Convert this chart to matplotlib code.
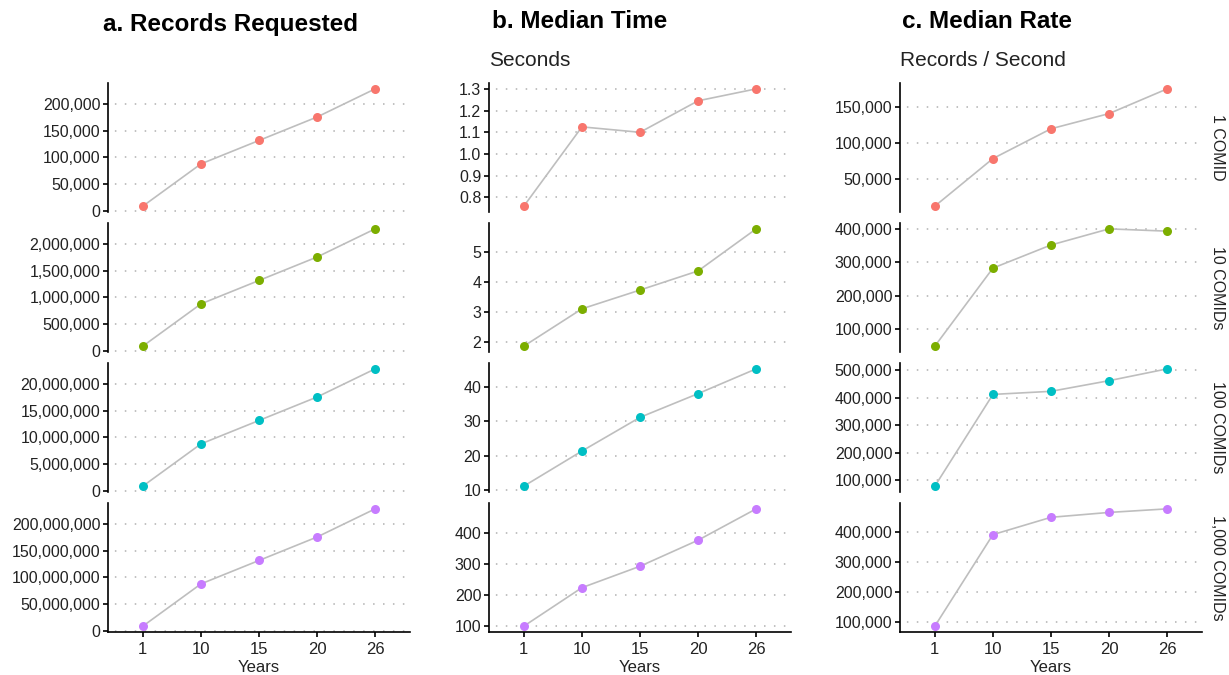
"""Facetted timing chart: records requested, median time and median rate."""

import matplotlib
matplotlib.use("Agg")
import matplotlib.pyplot as plt
from matplotlib.ticker import FuncFormatter, FixedLocator

plt.rcParams["font.family"] = ["Liberation Sans", "DejaVu Sans"]

W, H = 1229, 675

years = ["1", "10", "15", "20", "26"]
groups = ["1 COMID", "10 COMIDs", "100 COMIDs", "1,000 COMIDs"]
colors = ["#F8766D", "#7CAE00", "#00BFC4", "#C77CFF"]

# a. records requested
records = [
    [8760, 87600, 131400, 175200, 227760],
    [87600, 876000, 1314000, 1752000, 2277600],
    [876000, 8760000, 13140000, 17520000, 22776000],
    [8760000, 87600000, 131400000, 175200000, 227760000],
]
# b. median time (seconds)
median_time = [
    [0.76, 1.125, 1.10, 1.245, 1.30],
    [1.85, 3.10, 3.73, 4.37, 5.78],
    [11.1, 21.3, 31.1, 38.0, 45.2],
    [100, 224, 293, 377, 478],
]
# c. median rate (records / second)
median_rate = [
    [11500, 77900, 119500, 140700, 175200],
    [47400, 282600, 352300, 400900, 394000],
    [78900, 411300, 422500, 461100, 503900],
    [87600, 391100, 448500, 464700, 476500],
]

ticks_records = [
    [0, 50000, 100000, 150000, 200000],
    [0, 500000, 1000000, 1500000, 2000000],
    [0, 5000000, 10000000, 15000000, 20000000],
    [0, 50000000, 100000000, 150000000, 200000000],
]
ticks_time = [
    [0.8, 0.9, 1.0, 1.1, 1.2, 1.3],
    [2, 3, 4, 5],
    [10, 20, 30, 40],
    [100, 200, 300, 400],
]
ticks_rate = [
    [50000, 100000, 150000],
    [100000, 200000, 300000, 400000],
    [100000, 200000, 300000, 400000, 500000],
    [100000, 200000, 300000, 400000],
]

comma = FuncFormatter(lambda v, p: f"{v:,.0f}")
onedec = FuncFormatter(lambda v, p: f"{v:.1f}")
intfmt = FuncFormatter(lambda v, p: f"{v:.0f}")

col_px = [(108, 410), (489, 791), (900, 1202)]
row_px = [(83, 212), (223, 352), (363, 492), (503, 632)]

fig = plt.figure(figsize=(W / 100, H / 100), dpi=100)

columns = [
    (records, ticks_records, [comma] * 4),
    (median_time, ticks_time, [onedec, intfmt, intfmt, intfmt]),
    (median_rate, ticks_rate, [comma] * 4),
]

x = list(range(len(years)))
txt = "#222222"

for ci, (data, ticks, fmts) in enumerate(columns):
    x0, x1 = col_px[ci]
    for ri in range(4):
        y0, y1 = row_px[ri]
        ax = fig.add_axes([x0 / W, 1 - y1 / H, (x1 - x0) / W, (y1 - y0) / H])
        vals = data[ri]
        ax.plot(x, vals, color="#BEBEBE", lw=1.2, zorder=2)
        ax.plot(x, vals, "o", color=colors[ri], ms=6.5, mec="none", zorder=3)

        lo, hi = min(vals), max(vals)
        pad = (hi - lo) * 0.05
        ax.set_ylim(lo - pad, hi + pad)
        ax.set_xlim(-0.6, len(years) - 0.4)
        ax.yaxis.set_major_locator(FixedLocator(ticks[ri]))
        ax.yaxis.set_major_formatter(fmts[ri])
        ax.grid(axis="y", color="#B0B0B0", linestyle=(2, (1, 5.5)), lw=1.1)
        ax.set_axisbelow(True)

        for s in ("top", "right"):
            ax.spines[s].set_visible(False)
        ax.spines["left"].set_linewidth(1.2)
        ax.tick_params(axis="y", length=3.5, width=1.2, labelsize=11.5,
                       colors="black", labelcolor=txt, pad=2)

        if ri == 3:
            ax.spines["bottom"].set_linewidth(1.2)
            ax.set_xticks(x)
            ax.set_xticklabels(years)
            ax.tick_params(axis="x", length=3.5, width=1.2, labelsize=12,
                           labelcolor=txt, pad=3.5)
            ax.set_xlabel("Years", fontsize=12, labelpad=2, color=txt)
        else:
            ax.spines["bottom"].set_visible(False)
            ax.set_xticks([])

        if ci == 2:
            ax.text(1.05, 0.5, groups[ri], transform=ax.transAxes,
                    rotation=-90, va="center", ha="center", fontsize=11.5,
                    color=txt)

# panel titles
fig.text(103 / W, 1 - 25 / H, "a. Records Requested", fontsize=17.5,
         fontweight="bold", va="center", ha="left")
fig.text(492 / W, 1 - 22 / H, "b. Median Time", fontsize=17.5,
         fontweight="bold", va="center", ha="left")
fig.text(902 / W, 1 - 22 / H, "c. Median Rate", fontsize=17.5,
         fontweight="bold", va="center", ha="left")
fig.text(489 / W, 1 - 60 / H, "Seconds", fontsize=15, va="center", ha="left",
         color=txt)
fig.text(900 / W, 1 - 60 / H, "Records / Second", fontsize=15, va="center",
         ha="left", color=txt)

fig.savefig("out.png", dpi=100)
